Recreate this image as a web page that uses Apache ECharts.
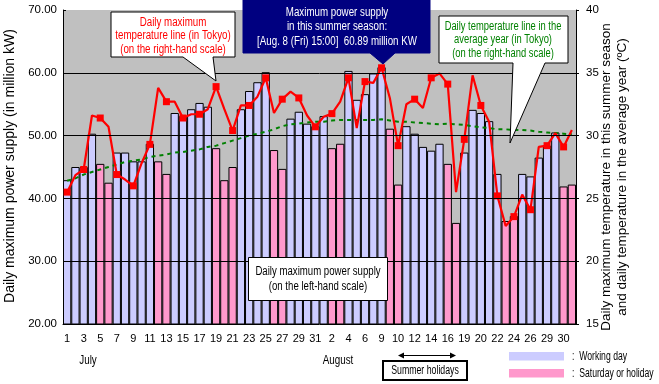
<!DOCTYPE html>
<html><head><meta charset="utf-8">
<script src="https://cdn.jsdelivr.net/npm/echarts@6/dist/echarts.min.js"></script>
<style>html,body{margin:0;padding:0;background:#fff}#c{width:659px;height:384px}</style>
</head><body><div id="c"></div>
<script>
// ---- data ----
const categories = ['7/1','7/2','7/3','7/4','7/5','7/6','7/7','7/8','7/9','7/10','7/11','7/12','7/13','7/14','7/15','7/16','7/17','7/18','7/19','7/20','7/21','7/22','7/23','7/24','7/25','7/26','7/27','7/28','7/29','7/30','7/31',
  '8/1','8/2','8/3','8/4','8/5','8/6','8/7','8/8','8/9','8/10','8/11','8/12','8/13','8/14','8/15','8/16','8/17','8/18','8/19','8/20','8/21','8/22','8/23','8/24','8/25','8/26','8/27','8/28','8/29','8/30','8/31'];
const tickLabels = ['1','3','5','7','9','11','13','15','17','19','21','23','25','27','29','31',
  '2','4','6','9','10','12','14','16','19','20','22','24','26','29','30'];
const power = [42.9,45.0,45.0,50.3,45.5,42.5,47.3,47.3,45.9,45.9,48.7,45.9,43.9,53.6,53.1,54.2,55.2,54.6,48.0,42.9,45.0,54.2,57.1,58.5,60.1,47.7,44.7,52.7,53.8,51.9,51.5,
  53.1,48.0,48.7,60.3,55.7,56.6,59.9,60.89,51.1,42.2,51.5,50.3,48.2,47.6,48.7,45.5,36.1,47.3,54.1,53.6,52.3,43.9,36.4,37.2,43.9,43.5,46.5,48.4,50.5,41.9,42.2];
const isHoliday = [0,0,0,0,1,1,0,0,0,0,0,1,1,0,0,0,0,0,1,1,1,0,0,0,0,1,1,0,0,0,0,
  0,1,1,0,0,0,0,0,1,1,0,0,0,0,0,1,1,0,0,0,0,0,1,1,0,0,0,0,0,1,1];
const maxTemp = [25.5,26.85,27.3,31.6,31.4,30.7,26.9,26.5,26.0,27.8,29.3,33.8,32.7,32.7,31.4,31.7,31.7,32.1,33.9,32.1,30.4,32.4,32.4,33.1,34.6,31.8,32.9,33.5,33.0,31.6,30.7,
  31.5,31.75,32.7,34.6,30.6,34.3,34.2,35.4,33.0,29.2,32.5,32.9,32.2,34.6,34.95,34.1,25.5,29.7,34.8,32.4,31.1,25.2,22.8,23.55,25.3,24.1,29.1,29.2,30.2,29.1,30.45];
const normalTemp = [26.4,26.6,26.9,27.1,27.3,27.5,27.7,27.9,28.0,28.1,28.3,28.4,28.5,28.65,28.7,28.8,28.9,29.1,29.2,29.4,29.6,29.8,30.0,30.15,30.3,30.5,30.75,30.9,30.95,31.05,31.1,
  31.1,31.2,31.25,31.25,31.25,31.25,31.25,31.3,31.2,31.1,31.1,31.05,31.0,30.95,30.9,30.95,30.9,30.85,30.75,30.65,30.6,30.5,30.5,30.45,30.45,30.4,30.3,30.25,30.2,30.15,30.1];
const gridValues = [30, 40, 50, 60];
const seriesNames = ['Working day', 'Saturday or holiday'];
const seriesColors = ['#CCCCFF', '#FF99CC'];

// ---- chart ----
const SANS = "'Liberation Sans',Arial,sans-serif";
const SX = 0.78; // horizontal squeeze to mimic the condensed bitmap font
const chart = echarts.init(document.getElementById('c'));

const workData = power.map((v, i) => isHoliday[i] ? '-' : v);
const holData = power.map((v, i) => isHoliday[i] ? v : '-');

function label(x, y, text, size, fill, lh, sx) {
  return { type: 'text', x: x, y: y, z: 11, scaleX: sx || SX,
    style: { text: text, font: size + 'px ' + SANS, lineHeight: lh || size, fill: fill, align: 'center', verticalAlign: 'middle' } };
}

const legendGraphics = [];
seriesNames.forEach((n, i) => {
  const y = 352 + i * 17;
  legendGraphics.push({ type: 'rect', z: 10, shape: { x: 509, y: y, width: 55, height: 8.5 }, style: { fill: seriesColors[i] } });
  legendGraphics.push({ type: 'text', x: 572, y: y + 4.5, z: 11, scaleX: 0.72,
    style: { text: ':  ' + n, font: '12px ' + SANS, fill: '#000', align: 'left', verticalAlign: 'middle' } });
});

const option = {
  animation: false,
  backgroundColor: '#fff',
  grid: { left: 63, right: 83, top: 10, bottom: 60, show: true, backgroundColor: '#C0C0C0', borderWidth: 0 },
  xAxis: {
    type: 'category', data: categories, boundaryGap: true,
    axisLine: { lineStyle: { color: '#000', width: 1 } },
    axisTick: { show: false },
    axisLabel: { interval: 1, margin: 9, color: '#000', fontFamily: SANS, fontSize: 11,
      formatter: (v, i) => tickLabels[Math.floor(i / 2)] },
    splitLine: { show: false }
  },
  yAxis: [
    { type: 'value', min: 20, max: 70, interval: 10,
      axisLine: { show: true, lineStyle: { color: '#000' } },
      axisTick: { show: true, inside: true, length: 3, lineStyle: { color: '#000' } },
      axisLabel: { color: '#000', fontFamily: SANS, fontSize: 11.5, margin: 6, formatter: v => v.toFixed(2) },
      splitLine: { show: false } },
    { type: 'value', min: 15, max: 40, interval: 5, position: 'right',
      axisLine: { show: true, lineStyle: { color: '#000' } },
      axisTick: { show: true, inside: false, length: 3, lineStyle: { color: '#000' } },
      axisLabel: { color: '#000', fontFamily: SANS, fontSize: 11.5, margin: 10 },
      splitLine: { show: false } }
  ],
  series: [
    { type: 'line', data: [], z: 1, silent: true,
      markLine: { silent: true, symbol: 'none', label: { show: false },
        lineStyle: { color: '#000', width: 1, type: 'solid' },
        data: gridValues.map(v => ({ yAxis: v })) } },
    { name: seriesNames[0], type: 'bar', data: workData, barWidth: '100%', barGap: '-100%', z: 2,
      itemStyle: { color: seriesColors[0], borderColor: '#000', borderWidth: 1 } },
    { name: seriesNames[1], type: 'bar', data: holData, barWidth: '100%', barGap: '-100%', z: 2,
      itemStyle: { color: seriesColors[1], borderColor: '#000', borderWidth: 1 } },
    { name: 'normal', type: 'line', yAxisIndex: 1, data: normalTemp, z: 3, showSymbol: false, symbol: 'none',
      lineStyle: { color: '#008000', width: 2, type: [4, 4] } },
    { name: 'max', type: 'line', yAxisIndex: 1, data: maxTemp, z: 4, symbol: 'rect', symbolSize: 7,
      itemStyle: { color: '#FF0000' }, lineStyle: { color: '#FF0000', width: 2.2 } }
  ],
  graphic: [
    // axis titles
    { type: 'text', x: 10, y: 166, rotation: Math.PI / 2, z: 10,
      style: { text: 'Daily maximum power supply (in million kW)', font: '14px ' + SANS, fill: '#000', align: 'center', verticalAlign: 'middle' } },
    { type: 'text', x: 614, y: 177, rotation: Math.PI / 2, z: 10,
      style: { text: 'Daily maximum temperature in this summer season\nand daily temperature in the average year (\u00baC)', font: '13.5px ' + SANS, lineHeight: 16, fill: '#000', align: 'center', verticalAlign: 'middle' } },
    // month labels
    label(88, 361, 'July', 12, '#000', 12, 0.82),
    label(338, 361, 'August', 12, '#000', 12, 0.82),
    // red callout
    { type: 'polygon', z: 10, shape: { points: [[111,12],[235,12],[235,57],[213,57],[216,81],[183,57],[111,57]] },
      style: { fill: '#fff', stroke: '#000', lineWidth: 1 } },
    label(173, 36, 'Daily maximum\ntemperature line (in Tokyo)\n(on the right-hand scale)', 12.5, '#FF0000', 13.5),
    // navy callout
    { type: 'polygon', z: 10, shape: { points: [[243,0],[430,0],[430,53],[395,53],[383,64],[370,53],[243,53]] },
      style: { fill: '#000080', stroke: '#000080', lineWidth: 1 } },
    label(337, 27, 'Maximum power supply\nin this summer season:\n[Aug. 8 (Fri) 15:00]  60.89 million KW', 12.5, '#fff', 14.5),
    // green callout
    { type: 'polygon', z: 10, shape: { points: [[439,16],[568,16],[568,63],[545,63],[510,143],[513,63],[439,63]] },
      style: { fill: '#fff', stroke: '#000', lineWidth: 1 } },
    label(503, 40, 'Daily temperature line in the\naverage year (in Tokyo)\n(on the right-hand scale)', 12.5, '#008000', 13.5, 0.75),
    // power callout
    { type: 'rect', z: 10, shape: { x: 248.5, y: 257.5, width: 139, height: 43 }, style: { fill: '#fff', stroke: '#000', lineWidth: 1 } },
    label(318, 279, 'Daily maximum power supply\n(on the left-hand scale)', 12.5, '#000', 14.5, 0.77),
    // summer holidays
    { type: 'rect', z: 10, shape: { x: 383, y: 361, width: 84, height: 19 }, style: { fill: '#fff', stroke: '#000', lineWidth: 2 } },
    label(425, 371, 'Summer holidays', 12, '#000', 12, 0.73),
    { type: 'line', z: 10, shape: { x1: 402, y1: 355.5, x2: 452, y2: 355.5 }, style: { stroke: '#000', lineWidth: 1 } },
    { type: 'polygon', z: 10, shape: { points: [[398,355.5],[404,352.5],[404,358.5]] }, style: { fill: '#000' } },
    { type: 'polygon', z: 10, shape: { points: [[456,355.5],[450,352.5],[450,358.5]] }, style: { fill: '#000' } }
  ].concat(legendGraphics)
};
chart.setOption(option);
</script>
</body></html>
